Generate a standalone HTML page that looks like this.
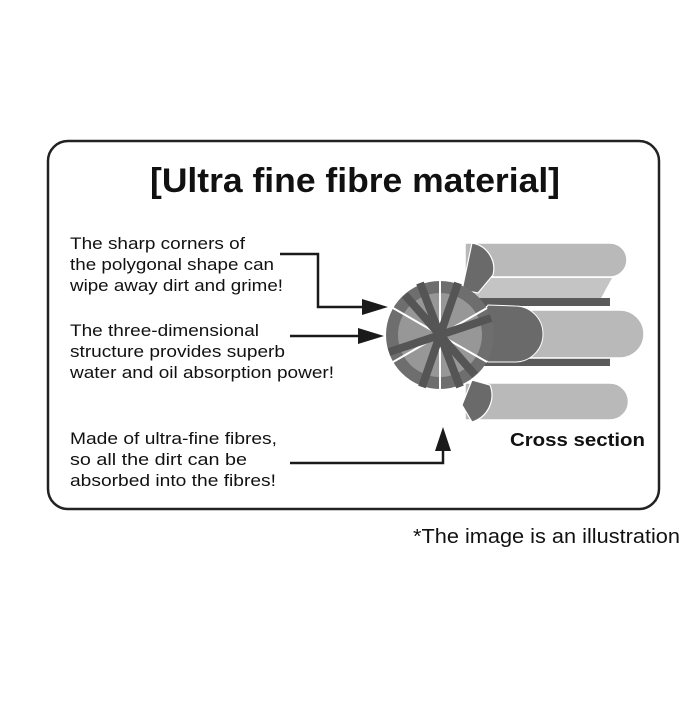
<!DOCTYPE html>
<html><head><style>
body{margin:0;background:#fff;}
svg text{font-family:"Liberation Sans",sans-serif;fill:#111;}
</style></head><body>
<svg width="700" height="700" viewBox="0 0 700 700" xmlns="http://www.w3.org/2000/svg">
<rect x="48" y="141" width="611" height="368" rx="20" fill="#fff" stroke="#222" stroke-width="2.5"/>
<text x="150" y="192" font-size="34" font-weight="bold" textLength="410" lengthAdjust="spacingAndGlyphs">[Ultra fine fibre material]</text>
<g font-size="17">
<text x="70" y="249" textLength="175" lengthAdjust="spacingAndGlyphs">The sharp corners of</text>
<text x="70" y="270" textLength="204" lengthAdjust="spacingAndGlyphs">the polygonal shape can</text>
<text x="70" y="291" textLength="213" lengthAdjust="spacingAndGlyphs">wipe away dirt and grime!</text>
<text x="70" y="336" textLength="189" lengthAdjust="spacingAndGlyphs">The three-dimensional</text>
<text x="70" y="357" textLength="215" lengthAdjust="spacingAndGlyphs">structure provides superb</text>
<text x="70" y="378" textLength="264" lengthAdjust="spacingAndGlyphs">water and oil absorption power!</text>
<text x="70" y="444" textLength="207" lengthAdjust="spacingAndGlyphs">Made of ultra-fine fibres,</text>
<text x="70" y="465" textLength="177" lengthAdjust="spacingAndGlyphs">so all the dirt can be</text>
<text x="70" y="486" textLength="206" lengthAdjust="spacingAndGlyphs">absorbed into the fibres!</text>
</g>
<text x="510" y="446" font-size="18.5" font-weight="bold" textLength="135" lengthAdjust="spacingAndGlyphs">Cross section</text>
<text x="413" y="543" font-size="20" textLength="267" lengthAdjust="spacingAndGlyphs">*The image is an illustration</text>
<!-- cylinders -->
<g>
<path d="M462 300 L488 278 L612 278 L600 300 Z" fill="#c4c4c4"/>
<rect x="460" y="298" width="150" height="8" fill="#5a5a5a"/>
<path d="M465 243 H610 A17 17 0 0 1 610 277 H465 Z" fill="#b9b9b9" stroke="#fff" stroke-width="1.5"/>
<path d="M462 405 L488 383 L612 383 L600 405 Z" fill="#c4c4c4"/>
<rect x="460" y="358" width="150" height="8" fill="#5a5a5a"/>
<path d="M515 310 H620 A24 24 0 0 1 620 358 H515 Z" fill="#b9b9b9" stroke="#fff" stroke-width="1.5"/>
<path d="M465 383 H610 A18 18 0 0 1 610 420 H465 Z" fill="#b9b9b9" stroke="#fff" stroke-width="1.5"/>
<path d="M472 243 A26 26 0 0 1 493 275 L478 293 L462 290 Z" fill="#6a6a6a" stroke="#fff" stroke-width="1.2"/>
<path d="M488 305 L470 334 L488 362 L515 362 A28 28 0 0 0 515 306 Z" fill="#6a6a6a" stroke="#fff" stroke-width="1"/>
<path d="M472 380 L490 385 A28 28 0 0 1 472 422 L462 405 Z" fill="#6a6a6a" stroke="#fff" stroke-width="1.2"/>
</g>
<!-- star -->
<circle cx="440" cy="335" r="54" fill="#6e6e6e"/>
<circle cx="440" cy="335" r="42" fill="#c0c0c0" opacity="0.5"/>
<g stroke="#fff" stroke-width="2">
<line x1="440" y1="335" x2="440" y2="281"/>
<line x1="440" y1="335" x2="487" y2="308"/>
<line x1="440" y1="335" x2="487" y2="362"/>
<line x1="440" y1="335" x2="440" y2="389"/>
<line x1="440" y1="335" x2="393" y2="362"/>
<line x1="440" y1="335" x2="393" y2="308"/>
</g>
<g stroke="#555" stroke-width="8">
<line x1="440" y1="335" x2="458" y2="283"/>
<line x1="440" y1="335" x2="491" y2="318"/>
<line x1="440" y1="335" x2="475" y2="375"/>
<line x1="440" y1="335" x2="422" y2="387"/>
<line x1="440" y1="335" x2="389" y2="352"/>
<line x1="440" y1="335" x2="405" y2="295"/>
<line x1="440" y1="335" x2="420" y2="283"/>
<line x1="440" y1="335" x2="460" y2="387"/>
</g>
<circle cx="440" cy="335" r="6" fill="#555"/>
<!-- arrows -->
<g stroke="#1a1a1a" stroke-width="2.5" fill="none">
<polyline points="280,254 318,254 318,307 366,307"/>
<line x1="290" y1="336" x2="362" y2="336"/>
<polyline points="290,463 443,463 443,448"/>
</g>
<g fill="#1a1a1a">
<polygon points="362,299 388,307 362,315"/>
<polygon points="358,328 384,336 358,344"/>
<polygon points="435,451 443,427 451,451"/>
</g>
</svg>
</body></html>
